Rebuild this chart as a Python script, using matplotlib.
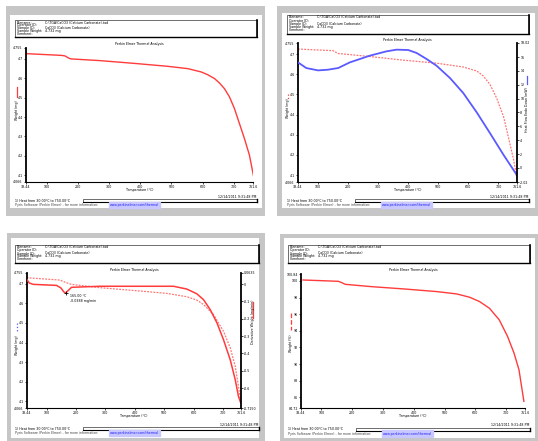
import matplotlib
matplotlib.use("Agg")
import matplotlib.pyplot as plt
from matplotlib.patches import Rectangle
from matplotlib.lines import Line2D

W, H = 538, 441

XMIN, XMAX = 33.44, 761.6
x_ticks = [100, 200, 300, 400, 500, 600, 700]
x_labels = ["33.44", "100", "200", "300", "400", "500", "600", "700", "761.6"]

# page 1 : weight (mg)
p1_temp = [33.4, 148, 159, 168, 177, 272, 380, 487, 552, 595, 616, 638, 654,
           670, 686, 702, 718, 734, 750, 763]
p1_wt = [4.726, 4.717, 4.714, 4.705, 4.699, 4.690, 4.676, 4.661, 4.649, 4.632,
         4.618, 4.598, 4.575, 4.546, 4.504, 4.444, 4.367, 4.290, 4.205, 4.099]
mg_ticks = [4.7, 4.6, 4.5, 4.4, 4.3, 4.2, 4.1]
mg_lim = (4.066, 4.755)

# page 2 : weight (mg) dashed + heat flow (mW)
p2_temp = [33.3, 150, 167, 272, 383, 494, 583, 628, 650, 672, 694, 717, 733, 750, 761]
p2_wt = [4.725, 4.717, 4.703, 4.688, 4.670, 4.655, 4.636, 4.616, 4.591, 4.549,
         4.482, 4.389, 4.288, 4.179, 4.087]
p2_hf_temp = [33.3, 61, 100, 133, 167, 206, 272, 328, 361, 400, 428, 461, 494,
              539, 583, 628, 672, 717, 761]
p2_hf = [15.23, 14.41, 14.07, 14.17, 14.41, 15.23, 16.19, 16.82, 17.06, 17.01,
         16.58, 15.71, 14.75, 12.96, 10.80, 8.00, 5.01, 1.88, -1.01]
hf_ticks = [16, 14, 12, 10, 8, 6, 4, 2, 0]
hf_lim = (-2.02, 18.02)

# page 3 : weight (mg) dashed + derivative weight (mg/min)
p3_temp = [31.8, 145.5, 168, 185, 282, 395, 509, 577, 611, 634, 668, 702, 725,
           742, 753, 761]
p3_wt = [4.731, 4.719, 4.705, 4.697, 4.680, 4.666, 4.651, 4.634, 4.617, 4.594,
         4.543, 4.458, 4.373, 4.279, 4.177, 4.095]
p3_d_temp = [31.8, 41, 54.5, 134, 149, 159, 165, 174, 185, 282, 395, 532, 577,
             611, 634, 657, 680, 702, 725, 742, 753, 761]
p3_deriv = [0.029, 0.006, -0.002, -0.008, -0.023, -0.046, -0.052, -0.037, -0.019,
            -0.013, -0.013, -0.013, -0.029, -0.056, -0.090, -0.148, -0.225,
            -0.321, -0.437, -0.552, -0.648, -0.687]
d_ticks = [0.0, -0.1, -0.2, -0.3, -0.4, -0.5, -0.6]
d_lim = (-0.715, 0.0635)
peak_t, peak_d = 165.0, -0.052

# page 4 : weight (%)
p4_temp = [40, 155, 166, 177, 262, 369, 476, 540, 582, 614, 646, 678, 705, 726,
           742, 758]
p4_wt = [100.12, 99.96, 99.8, 99.6, 99.32, 99.04, 98.72, 98.44, 98.04, 97.52,
         96.72, 95.32, 93.32, 91.32, 89.32, 85.52]
pct_ticks = [100, 98, 96, 94, 92, 90, 88, 86]
pct_lim = (84.72, 100.84)

RED = "#ff3b3b"
BLUE = "#5a5aff"
GRAY = "#c6c6c6"
FS = 2.3

header_rows = ["Filename:", "Operator ID:", "Sample ID:", "Sample Weight:", "Comment:"]
header_vals = ["C:\\TGA\\CaCO3 (Calcium Carbonate).tad", "", "CaCO3 (Calcium Carbonate)",
               "4.732 mg", ""]

fig = plt.figure(figsize=(W / 100, H / 100), dpi=100)
fig.patch.set_facecolor("white")


def rect(l, t, r, b, **kw):
    kw.setdefault("zorder", -5)
    fig.add_artist(Rectangle((l / W, 1 - b / H), (r - l) / W, (b - t) / H,
                             transform=fig.transFigure, **kw))


def hline(x0, x1, y, **kw):
    fig.add_artist(Line2D([x0 / W, x1 / W], [1 - y / H, 1 - y / H],
                          transform=fig.transFigure, **kw))


def vline(x, y0, y1, **kw):
    fig.add_artist(Line2D([x / W, x / W], [1 - y0 / H, 1 - y1 / H],
                          transform=fig.transFigure, **kw))


def txt(x, y, s, **kw):
    kw.setdefault("fontsize", FS)
    fig.text(x / W, 1 - y / H, s, **kw)


def page(outer, inner, hdr, title_y, axbox, xlab_y, foot_y):
    rect(*outer, facecolor=GRAY, edgecolor="none", zorder=-10)
    rect(*inner, facecolor="white", edgecolor="none", zorder=-9)
    # header box with shadow edges
    l, t, r, b = hdr
    rect(l, t, r, b, facecolor="white", edgecolor="black", linewidth=0.4)
    vline(r, t, b, color="black", linewidth=1.2)
    hline(l, r, b, color="black", linewidth=1.0)
    for i, (k, v) in enumerate(zip(header_rows, header_vals)):
        y = t + 2.5 + i * (b - t - 3) / 5
        txt(l + 2, y, k, va="center")
        txt(l + 30, y, v, va="center")
    txt((axbox[0] + axbox[2]) / 2, title_y, "Perkin Elmer Thermal Analysis",
        ha="center", va="center")
    al, at, ar, ab = axbox
    ax = fig.add_axes([al / W, 1 - ab / H, (ar - al) / W, (ab - at) / H])
    ax.patch.set_alpha(0)
    ax.set_xlim(XMIN, XMAX)
    ax.set_xticks([XMIN] + x_ticks + [XMAX])
    ax.set_xticklabels(x_labels)
    ax.tick_params(labelsize=FS, length=1.5, width=0.5, pad=0.8)
    for s in ("top", "right"):
        ax.spines[s].set_visible(False)
    ax.spines["left"].set_linewidth(1.3)
    ax.spines["bottom"].set_linewidth(0.8)
    txt((al + ar) / 2, xlab_y, "Temperature (°C)", ha="center", va="center")
    # footer
    fl, fr = hdr[0], hdr[2]
    txt(fl, foot_y, "1) Heat from 30.00°C to 750.00°C", va="center")
    rect(fl + 68, foot_y - 1.5, fr, foot_y + 1.8, facecolor="white",
         edgecolor="black", linewidth=0.4, zorder=1)
    vline(fr, foot_y - 1.5, foot_y + 1.8, color="black", linewidth=1.0)
    hline(fl + 68, fr, foot_y + 1.8, color="black", linewidth=0.8)
    txt(fr - 1, foot_y - 3.5, "12/14/2011 9:31:48 PM", ha="right", va="center")
    txt(fl, foot_y + 4.5, "Pyris Software (Perkin Elmer) - for more information:",
        va="center", color="#444444")
    txt(fl + 95, foot_y + 4.5, "www.perkinelmer.com/thermal", va="center", color="#2020ff",
        backgroundcolor="#c8c8ff")
    return ax


def y_axis(ax, ticks, lim, fmt):
    ax.set_ylim(*lim)
    ax.set_yticks([lim[0]] + ticks + [lim[1]])
    ax.set_yticklabels([fmt(lim[0])] + [f"{v:g}" for v in ticks] + [fmt(lim[1])])


def ylabel(x, yc, s, sample_y, color, style):
    txt(x, yc, s, rotation=90, ha="center", va="center")
    vline(x, sample_y[0], sample_y[1], color=color, linewidth=0.9, linestyle=style)


def right_axis(ax, ticks, lim, fmt):
    ax2 = ax.twinx()
    ax2.patch.set_alpha(0)
    for s in ("top", "left", "bottom"):
        ax2.spines[s].set_visible(False)
    ax2.spines["right"].set_visible(True)
    ax2.spines["right"].set_linewidth(1.3)
    y_axis(ax2, ticks, lim, fmt)
    ax2.tick_params(labelsize=FS, length=1.5, width=0.5, pad=0.8)
    return ax2


# ── page 1 (top left) ─────────────────────────────────────────────────────────
ax = page((6, 6, 265, 216), (10, 15, 262, 208), (15, 20, 257, 37), 44,
          (26, 48, 253, 182), 190, 200.5)
y_axis(ax, mg_ticks, mg_lim, lambda v: f"{v:.3f}")
ax.plot(p1_temp, p1_wt, color=RED, linewidth=1.0)
ylabel(17, 110, "Weight (mg)", (87, 97), RED, "-")

# ── page 2 (top right) ────────────────────────────────────────────────────────
ax = page((277, 6, 538, 216), (282, 13, 535, 208), (287, 15, 529, 34), 40,
          (298, 43, 517, 182), 190, 200.5)
y_axis(ax, mg_ticks, mg_lim, lambda v: f"{v:.3f}")
ax.plot(p2_temp, p2_wt, color=RED, linewidth=0.9, linestyle=(0, (1.5, 1)), alpha=0.7)
ax2 = right_axis(ax, hf_ticks, hf_lim, lambda v: f"{v:.2f}")
ax2.plot(p2_hf_temp, p2_hf, color=BLUE, linewidth=1.3)
ylabel(288, 108, "Weight (mg)", (94, 100), RED, ":")
ylabel(527, 110, "Heat Flow Endo Down (mW)", (76, 84), BLUE, "-")

# ── page 3 (bottom left) ──────────────────────────────────────────────────────
ax = page((7, 233, 265, 441), (11, 238, 259, 438), (15, 245, 259, 263), 270,
          (27, 273, 241, 408), 416, 428.5)
y_axis(ax, mg_ticks, mg_lim, lambda v: f"{v:.3f}")
ax.plot(p3_temp, p3_wt, color=RED, linewidth=0.9, linestyle=(0, (1.5, 1)), alpha=0.7)
ax2 = right_axis(ax, d_ticks, d_lim, lambda v: f"{v:.4f}")
ax2.plot(p3_d_temp, p3_deriv, color=RED, linewidth=1.1)
ax2.plot([peak_t], [peak_d], marker="+", color="black", markersize=3, markeredgewidth=0.6)
ax2.annotate(f"{peak_t:.2f} °C\n-0.0388 mg/min", (peak_t, peak_d), xytext=(3, -1),
             textcoords="offset points", fontsize=FS, va="top")
ylabel(17, 345, "Weight (mg)", (323, 331), BLUE, ":")
ylabel(253, 322, "Derivative Weight (mg/min)", (302, 318), RED, "-")

# ── page 4 (bottom right) ─────────────────────────────────────────────────────
ax = page((280, 234, 538, 441), (284, 238, 535, 438), (288, 245, 530, 263), 270,
          (301, 274, 525, 408), 416, 429)
y_axis(ax, pct_ticks, pct_lim, lambda v: f"{v:.2f}")
ax.plot(p4_temp, p4_wt, color=RED, linewidth=1.0)
ylabel(291, 343, "Weight (%)", (313, 330), RED, "--")

fig.savefig("out.png", dpi=100)
